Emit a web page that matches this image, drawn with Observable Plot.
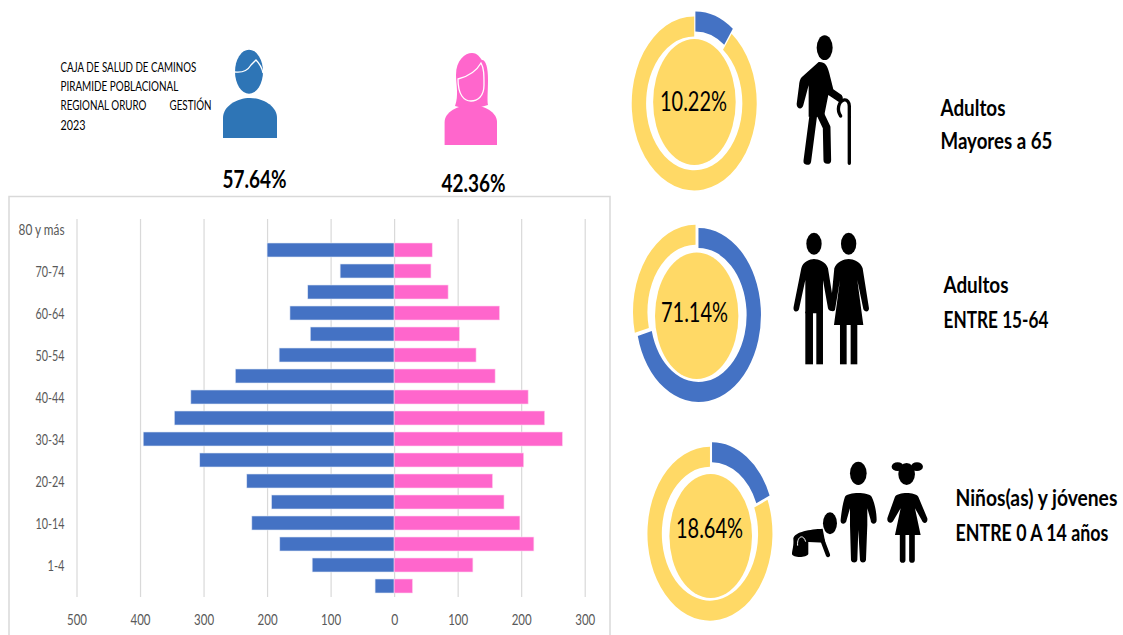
<!DOCTYPE html>
<html><head><meta charset="utf-8">
<script src="https://cdn.jsdelivr.net/npm/d3@7"></script>
<script src="https://cdn.jsdelivr.net/npm/@observablehq/plot@0.6"></script>
<style>html,body{margin:0;padding:0;background:#fff;overflow:hidden}svg{display:block}</style>
</head><body><div id="chart"></div>
<script>
const ageGroups = ["80 y más","75-79","70-74","65-69","60-64","55-59","50-54","45-49","40-44","35-39","30-34","25-29","20-24","15-19","10-14","5-9","1-4","<1"];
const ageTicks = ["80 y más","70-74","60-64","50-54","40-44","30-34","20-24","10-14","1-4"];
const men   = [null,200,85,136,164,132,181,250,320,346,395,306,232,193,224,180,129,30];
const women = [null,60,58,85,166,103,129,159,211,237,265,204,155,173,198,220,124,29];
const xTicks = [-500,-400,-300,-200,-100,0,100,200,300];
const sexShares = ["57.64%","42.36%"];
const donutTexts = ["10.22%","71.14%","18.64%"];
const donutValues = [10.22,71.14,18.64];
const titleLines = ["CAJA DE SALUD DE CAMINOS","PIRAMIDE POBLACIONAL","REGIONAL ORURO","GESTIÓN","2023"];
const groupLines = ["Adultos","Mayores a 65","Adultos","ENTRE 15-64","Niños(as) y jóvenes","ENTRE 0 A 14 años"];
// rendered widths of the condensed reference lettering, in pixels
const textWidths = new Map([
 ["CAJA DE SALUD DE CAMINOS",136],["PIRAMIDE POBLACIONAL",118],["REGIONAL ORURO",86],["GESTIÓN",42],["2023",25],
 ["57.64%",64],["42.36%",64],["10.22%",67],["71.14%",67],["18.64%",67],
 ["Adultos",65],["Mayores a 65",112],["ENTRE 15-64",105],["Niños(as) y jóvenes",162],["ENTRE 0 A 14 años",153],
 ["80 y más",46],["70-74",29],["60-64",29],["50-54",29],["40-44",29],["30-34",29],["20-24",29],["10-14",29],["1-4",17],
 ["500",20],["400",20],["300",20],["200",20],["100",20],["0",7]
]);

const BLUE="#4472c4", PINK="#ff66cc", YELLOW="#ffd966";
const W=1123,H=635,ML=76.5,MR=W-584.7,MT=219,MB=H-597;
const FONT="Lato,'Noto Sans',sans-serif";
const label=(t,x,y,o={})=>Plot.text([t],{text:d=>d,frameAnchor:"top-left",dx:x-ML,dy:y-MT,textAnchor:"start",lineAnchor:"middle",fill:"#000",fontSize:14,...o});

const donuts=[
 {cx:694.8,cy:100.9,ex:694.4,ey:102,erx:41.3,ery:63},
 {cx:697,cy:313.4,ex:696.7,ey:315.7,erx:41.7,ery:63.3},
 {cx:711,cy:531.5,ex:710.7,ey:536,erx:41.3,ery:62}
];
function donutMark(){
  return ()=>{
    const g=d3.create("svg:g");
    const arc=d3.arc().innerRadius(.77).outerRadius(1);
    donutValues.forEach((v,i)=>{
      const L=donuts[i];
      const slices=d3.pie().sort(null)([v,100-v]);
      slices.forEach((s,j)=>{
        const b=(s.startAngle+s.endAngle)/2,e=.03;
        g.append("path").attr("d",arc(s))
         .attr("transform",`translate(${L.cx+Math.sin(b)*e*62.5},${L.cy-Math.cos(b)*e*87}) scale(62.5,87)`)
         .attr("fill",j==0?BLUE:YELLOW);
      });
      g.append("ellipse").attr("cx",L.ex).attr("cy",L.ey).attr("rx",L.erx).attr("ry",L.ery).attr("fill",YELLOW);
    });
    return g.node();
  };
}
const decor=`
<rect x="9" y="196.5" width="601" height="460" fill="none" stroke="#d9d9d9" stroke-width="1.5"/>
<g id="man"><ellipse cx="249" cy="71.7" rx="14" ry="22" fill="#2e75b6"/>
<path d="M235 72 C243 73 248 70 251 65 L256 60 C259 63 262 68 263 73" fill="none" stroke="#fff" stroke-width="1.3"/>
<path d="M223 138 V118 C223 106 237 98 250 98 C263 98 277 106 277 118 V138 Z" fill="#2e75b6"/></g>
<g id="woman"><path d="M455 106 C459 95 456 85 456 75 C456 60 465 53 472 53 C478 53 480 58 482 60 C486 60 488 68 488 80 C488 90 487 100 488 105 L470 110 Z" fill="#ff66cc"/>
<path d="M458 79 C466 77 476 72 481 63 C484 68 484 75 484 85 C484 97 477 101 471 101 C464 101 458 95 458 79 Z" fill="#ff66cc" stroke="#fff" stroke-width="1.3"/>
<path d="M444.6 145 V122 C444.6 112 458 105 471 105 C484 105 497 112 497 122 V145 Z" fill="#ff66cc"/></g>
<g id="elder" transform="translate(620,0) scale(.3333)" fill="#000">
<ellipse cx="614" cy="143" rx="24" ry="37"/>
<path d="M596 186 L545 232 C540 238 538 245 537 258 L530 312 C530 328 547 330 550 316 L566 256 L566 350 L612 350 L625 285 L660 308 C668 305 672 295 665 285 L640 268 L628 220 C622 195 615 185 596 186 Z"/>
<path d="M580 345 L562 483 M600 340 L620 382 L622 480" fill="none" stroke="#000" stroke-width="23" stroke-linecap="round" stroke-linejoin="round"/>
<path d="M662 348 C650 330 655 305 672 300 C682 298 688 308 688 318 L688 490" fill="none" stroke="#000" stroke-width="10" stroke-linecap="round"/></g>
<g id="couple" transform="translate(620,215) scale(.3333)" fill="#000">
<ellipse cx="582" cy="86" rx="23" ry="33"/><ellipse cx="686" cy="86" rx="23" ry="33"/>
<path d="M544 160 C548 140 570 132 582 132 C595 132 618 140 624 160 L642 272 C644 292 628 292 624 280 L609 195 L609 295 L556 295 L556 195 L537 283 C532 295 518 290 521 275 Z"/>
<rect x="556" y="290" width="23" height="158"/><rect x="589" y="290" width="20" height="158"/>
<path d="M643 160 C650 140 672 132 686 132 C700 132 722 140 728 160 L747 280 C748 292 733 292 730 282 L712 195 L730 330 L642 330 L660 195 L645 285 C640 292 630 290 632 275 Z"/>
<rect x="660" y="325" width="20" height="123"/><rect x="692" y="325" width="20" height="123"/></g>
<g id="kids" transform="translate(630,430) scale(.3333)" fill="#000">
<ellipse cx="600" cy="280" rx="21" ry="33"/>
<path d="M490 325 C495 305 540 298 578 296 L586 338 L535 336 C535 350 535 365 535 372 C530 384 488 384 486 372 C486 360 492 350 490 325 Z"/>
<path d="M503 347 C500 320 520 310 527 335" fill="none" stroke="#fff" stroke-width="3"/>
<path d="M575 325 L594 375" fill="none" stroke="#000" stroke-width="13" stroke-linecap="round"/>
<ellipse cx="685" cy="130" rx="25" ry="35"/>
<path d="M645 200 C655 185 715 185 725 200 C735 220 740 250 740 270 C740 285 722 285 722 270 L712 235 L712 285 L708 390 C706 400 692 400 690 390 L685 300 L682 390 C680 400 665 400 663 390 L660 285 L660 235 L650 270 C648 285 630 285 632 270 C634 250 638 220 645 200 Z"/>
<ellipse cx="830" cy="132" rx="25" ry="33"/><ellipse cx="803" cy="110" rx="18" ry="13"/><ellipse cx="861" cy="110" rx="18" ry="13"/>
<path d="M795 200 C805 185 855 185 865 200 L892 265 C895 280 880 285 875 270 L855 235 L872 315 L795 315 L812 235 L790 272 C782 285 768 275 773 262 Z"/>
<path d="M818 315 L818 390 M846 315 L846 390" fill="none" stroke="#000" stroke-width="17" stroke-linecap="round"/></g>`;
const decorMark=()=>()=>{const g=d3.create("svg:g");g.html(decor);return g.node();};

const rows=ageGroups.map((age,i)=>({age,men:men[i],women:women[i]})).filter(d=>d.men!=null);
const chart=Plot.plot({
  width:W,height:H,marginLeft:ML,marginRight:MR,marginTop:MT,marginBottom:MB,
  style:{fontFamily:FONT,background:"#fff",overflow:"visible"},
  x:{domain:[-500,300]},
  y:{domain:ageGroups,paddingInner:.31,paddingOuter:.155,label:null},
  marks:[
    decorMark(),
    Plot.gridX(xTicks,{stroke:"#d9d9d9",strokeOpacity:1,strokeWidth:1.2}),
    Plot.barX(rows,{x1:0,x2:d=>-d.men,y:"age",fill:BLUE,stroke:"#dfe6f6",strokeWidth:.6}),
    Plot.barX(rows,{x1:0,x2:"women",y:"age",fill:PINK,stroke:"#ffd6f0",strokeWidth:.6}),
    Plot.axisX({ticks:xTicks,tickFormat:d=>Math.abs(d),tickSize:0,tickPadding:16,fontSize:16,fill:"#595959",label:null}),
    Plot.axisY({ticks:ageTicks,tickSize:0,tickPadding:12.5,fontSize:16,fill:"#595959",label:null}),
    donutMark(),
    label(titleLines[0],60,67),
    label(titleLines[1],60,86),
    label(titleLines[2],60,105),
    label(titleLines[3],169,105),
    label(titleLines[4],60,125),
    label(sexShares[0],254,179,{fontSize:25,fontWeight:"bold",textAnchor:"middle"}),
    label(sexShares[1],473,183,{fontSize:25,fontWeight:"bold",textAnchor:"middle"}),
    label(donutTexts[0],693,102,{fontSize:27,textAnchor:"middle"}),
    label(donutTexts[1],694,313,{fontSize:27,textAnchor:"middle"}),
    label(donutTexts[2],709,529,{fontSize:27,textAnchor:"middle"}),
    label(groupLines[0],940,108,{fontSize:22,fontWeight:"bold"}),
    label(groupLines[1],940,141,{fontSize:22,fontWeight:"bold"}),
    label(groupLines[2],943,285,{fontSize:22,fontWeight:"bold"}),
    label(groupLines[3],943,320,{fontSize:22,fontWeight:"bold"}),
    label(groupLines[4],955,498,{fontSize:22,fontWeight:"bold"}),
    label(groupLines[5],955,533,{fontSize:22,fontWeight:"bold"})
  ]
});
document.getElementById("chart").appendChild(chart);
function condense(){
  chart.querySelectorAll("text").forEach(t=>{
    const w=textWidths.get(t.textContent);
    if(!w) return;
    const base=t.dataset.base ?? (t.dataset.base=t.getAttribute("transform")||"");
    t.setAttribute("transform",base);
    t.setAttribute("transform",`${base} scale(${w/t.getComputedTextLength()},1)`);
  });
}
condense();
if(document.fonts&&document.fonts.ready) document.fonts.ready.then(condense);
</script></body></html>
